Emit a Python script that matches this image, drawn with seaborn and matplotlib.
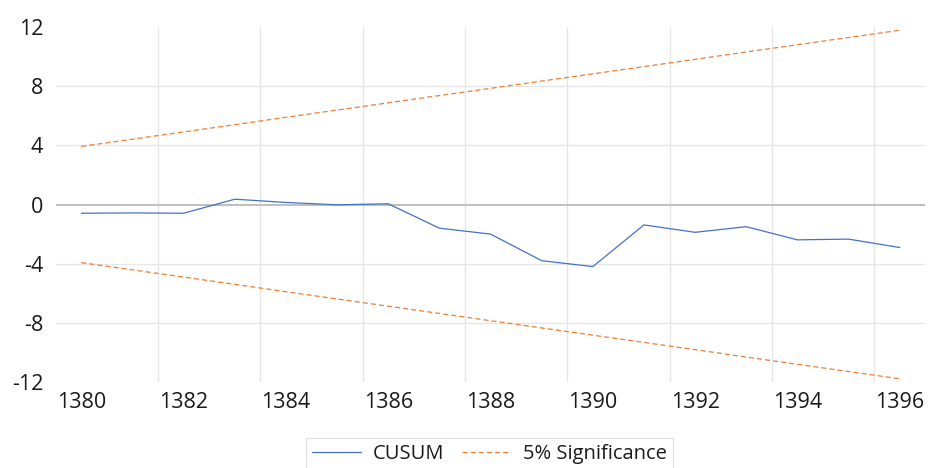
import numpy as np
import pandas as pd
import seaborn as sns
import matplotlib.pyplot as plt

years = list(range(1380, 1397))
cusum = [-0.59, -0.57, -0.59, 0.36, 0.14, -0.02, 0.05, -1.6, -2.0,
         -3.8, -4.2, -1.38, -1.88, -1.5, -2.39, -2.34, -2.91]
upper = [3.93, 4.42, 4.91, 5.40, 5.90, 6.39, 6.88, 7.37, 7.86,
         8.35, 8.84, 9.33, 9.82, 10.32, 10.81, 11.30, 11.79]
lower = [-v for v in upper]

df = pd.DataFrame({"year": years, "CUSUM": cusum, "upper": upper, "lower": lower})

sns.set_style("white")
plt.rcParams["font.family"] = ["Open Sans", "DejaVu Sans"]
plt.rcParams["axes.unicode_minus"] = False

fig = plt.figure(figsize=(9.29, 4.68), dpi=100)
ax = fig.add_axes([0.060, 0.184, 0.936, 0.758])

# grid
for y in [-8, -4, 4, 8]:
    ax.axhline(y, color="#e6e6e6", lw=1.0, zorder=0)
for x in np.arange(1381.5, 1396, 2):
    ax.axvline(x, color="#e6e6e6", lw=1.0, zorder=0)
ax.axhline(0, color="#bfbfbf", lw=1.4, zorder=1)

sns.lineplot(x="year", y="CUSUM", data=df, color="#4472c4", lw=0.9, ax=ax, label="CUSUM", zorder=3)
sns.lineplot(x="year", y="upper", data=df, color="#ed7d31", lw=0.9, ls=(0, (4, 2.5)), ax=ax,
             label="5% Significance", zorder=3)
sns.lineplot(x="year", y="lower", data=df, color="#ed7d31", lw=0.9, ls=(0, (4, 2.5)), ax=ax,
             label="_nolegend_", zorder=3)

ax.set_xlim(1379.5, 1396.5)
ax.set_ylim(-12, 12)
ax.set_xticks(range(1380, 1397, 2))
ax.set_yticks(range(-12, 13, 4))
ax.tick_params(axis="both", length=0, labelsize=15.5, colors="#1a1a1a")
ax.tick_params(axis="x", pad=7)
ax.tick_params(axis="y", pad=9)
ax.set_xlabel("")
ax.set_ylabel("")
for s in ax.spines.values():
    s.set_visible(False)

ax.get_legend().remove()
handles, labels = ax.get_legend_handles_labels()
leg = fig.legend(handles, labels, loc="upper center", bbox_to_anchor=(0.527, 0.085),
                 ncol=2, frameon=True, fontsize=14.5, handlelength=2.4, handletextpad=0.6,
                 columnspacing=0.9, fancybox=False, borderpad=0.3)
leg.get_frame().set_edgecolor("#d9d9d9")
leg.get_frame().set_linewidth(0.8)
for t in leg.get_texts():
    t.set_color("#1a1a1a")

fig.savefig("out.png", dpi=100)
